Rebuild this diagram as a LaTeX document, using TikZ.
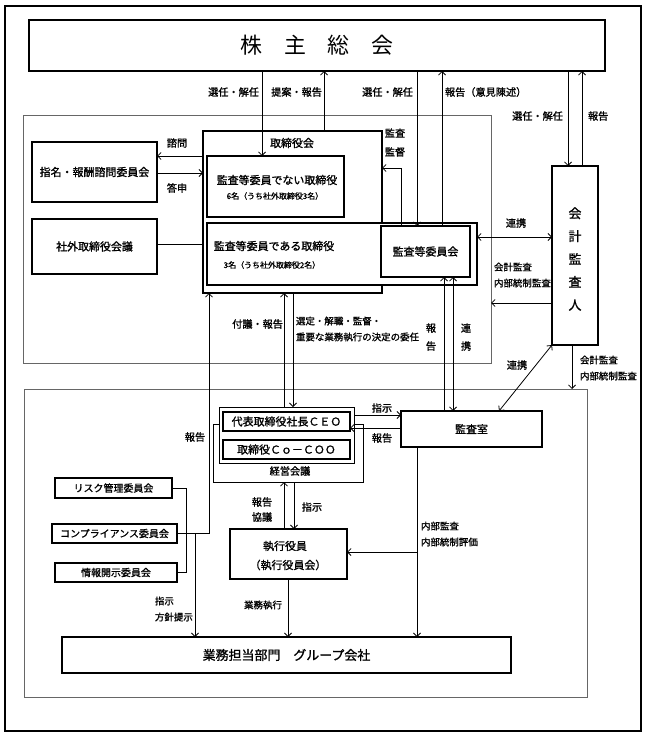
\documentclass[tikz,border=0pt]{standalone}
\usepackage{fontspec}
\setmainfont{Noto Sans CJK JP}[FakeBold=1.2]
\newfontfamily\plainjp{Noto Sans CJK JP}
\usetikzlibrary{arrows.meta}
\newcommand{\placebox}[7][]{\node[#1, minimum width={(#5-#3)*1bp}, minimum height={(#6-#4)*1bp}] (#2) at ({(#3+#5)/2},{(#4+#6)/2}) {#7};}
\begin{document}
\begin{tikzpicture}[x=1bp,y=-1bp,
  base/.style={rectangle, inner sep=0pt, outer sep=0pt},
  frame/.style={base, draw=black, line width=1.4bp},
  region/.style={base, draw=black!60, line width=0.9bp},
  box/.style={base, draw=black, fill=white, line width=1.3bp, font=\fontsize{11}{13}\selectfont},
  thickbox/.style={box, line width=1.9bp},
  thinbox/.style={base, draw=black, fill=white, line width=0.9bp},
  lbl/.style={inner sep=0pt, outer sep=0pt, font=\fontsize{9.5}{11}\selectfont},
  toplbl/.style={inner sep=0pt, outer sep=0pt, font=\fontsize{10.2}{12}\selectfont},
  txt/.style={inner sep=0pt, outer sep=0pt, font=\fontsize{11}{13}\selectfont},
  small/.style={inner sep=0pt, outer sep=0pt, font=\fontsize{8}{10}\selectfont},
  conn/.style={draw=black, line width=0.8bp},
  arr/.style={conn, -{Straight Barb[length=3.5bp,width=7bp]}},
  arrb/.style={conn, {Straight Barb[length=3.5bp,width=7bp]}-{Straight Barb[length=3.5bp,width=7bp]}}
]
\useasboundingbox (0,0) rectangle (647,738);
\fill[white] (0,0) rectangle (647,738);

% frames and regions
\placebox[frame]{outer}{5}{6}{641}{731}{}
\placebox[region]{reg1}{23}{115}{491}{363}{}
\placebox[region]{reg2}{24}{389}{587}{697}{}

% column / row coordinates
\coordinate (cA) at (262,0);
\coordinate (cB) at (324,0);
\coordinate (cC) at (417,0);
\coordinate (cD) at (442,0);
\coordinate (cE) at (568,0);
\coordinate (cF) at (582,0);
\coordinate (cG) at (401,0);
\coordinate (cH) at (444,0);
\coordinate (cI) at (453,0);
\coordinate (cJ) at (284,0);
\coordinate (cK) at (293,0);
\coordinate (cL) at (209,0);
\coordinate (cM) at (195,0);
\coordinate (cN) at (186,0);
\coordinate (cO) at (294,0);
\coordinate (cP) at (288,0);
\coordinate (cQ) at (572,0);
\coordinate (cR) at (499,0);
\coordinate (r1) at (0,156);
\coordinate (r2) at (0,173);
\coordinate (r3) at (0,244);
\coordinate (r4) at (0,168);
\coordinate (r5) at (0,237);
\coordinate (r6) at (0,303);
\coordinate (r7) at (0,415);
\coordinate (r8) at (0,428);
\coordinate (r12) at (0,552);

% boxes
\placebox[box, line width=1.4bp, font=\plainjp\fontsize{22}{24}\selectfont]{sh}{29}{20}{605}{71}{株　主　総　会}
\placebox[thickbox]{board}{203}{131}{382}{293}{}
\placebox[box]{nonaudit}{207}{156}{344}{217}{}
\placebox[box]{auditdir}{207}{223}{477}{285}{}
\placebox[thickbox]{acom}{381}{226}{470}{277}{監査等委員会}
\placebox[box]{nomi}{32}{142}{157}{202}{指名・報酬諮問委員会}
\placebox[box]{outdir}{32}{219}{157}{274}{社外取締役会議}
\placebox[box]{auditor}{552}{166}{598}{345}{}
\placebox[thinbox]{mgmt}{213}{424}{363}{482}{}
\placebox[thinbox]{ceoframe}{219}{407}{354}{463}{}
\placebox[box, line width=1.1bp]{ceo}{223}{412}{350}{431}{代表取締役社長ＣＥＯ}
\placebox[box, line width=1.1bp]{coo}{223}{440}{350}{459}{取締役Ｃｏ－ＣＯＯ}
\placebox[box]{iaudit}{401}{411}{542}{447}{監査室}
\placebox[box, font=\fontsize{10}{12}\selectfont]{risk}{55}{478}{172}{498}{リスク管理委員会}
\placebox[box, font=\fontsize{10}{12}\selectfont]{comp}{52}{524}{177}{543}{コンプライアンス委員会}
\placebox[box, font=\fontsize{10}{12}\selectfont]{disc}{55}{563}{177}{582}{情報開示委員会}
\placebox[box]{exec}{230}{529}{347}{579}{}
\placebox[box, font=\fontsize{13}{15}\selectfont]{biz}{62}{637}{511}{673}{業務担当部門　グループ会社}

% texts inside boxes
\node[txt] (tboard) at (292,143) {取締役会};
\node[txt] (tna1) at (277,180) {監査等委員でない取締役};
\node[small] (tna2) at (275,196) {6名（うち社外取締役3名）};
\node[txt] (tad1) at (274,246) {監査等委員である取締役};
\node[small] (tad2) at (272,265) {3名（うち社外取締役2名）};
\node[inner sep=0pt, align=center, font=\fontsize{13}{23}\selectfont] (taud) at (575,259) {会\\計\\監\\査\\人};
\node[toplbl] (tmgmt) at (290,471) {経営会議};
\node[txt] (tex1) at (285,546) {執行役員};
\node[txt] (tex2) at (288,565) {（執行役員会）};

% shareholders connectors
\draw[arr] (sh.south -| cA) -- (nonaudit.north -| cA);
\draw[arr] (board.north -| cB) -- (sh.south -| cB);
\draw[arr] (sh.south -| cC) -- (acom.north -| cC);
\draw[arr] (acom.north -| cD) -- (sh.south -| cD);
\draw[arr] (sh.south -| cE) -- (auditor.north -| cE);
\draw[arr] (auditor.north -| cF) -- (sh.south -| cF);
\node[toplbl, anchor=east] (l1) at (259,92) {選任・解任};
\node[toplbl, anchor=east] (l2) at (322,92) {提案・報告};
\node[toplbl, anchor=east] (l3) at (413,92) {選任・解任};
\node[toplbl, anchor=west] (l4) at (445,92) {報告（意見陳述）};
\node[toplbl, anchor=east] (l5) at (563,116) {選任・解任};
\node[toplbl, anchor=west] (l6) at (588,116) {報告};

% board side
\draw[arr] (board.west |- r1) -- (nomi.east |- r1);
\draw[arr] (nomi.east |- r2) -- (board.west |- r2);
\draw[conn] (outdir.east |- r3) -- (board.west |- r3);
\node[toplbl] (l7) at (177,143) {諮問};
\node[toplbl] (l8) at (177,188) {答申};
\draw[arr] (acom.north -| cG) |- (board.east |- r4);
\node[toplbl] (l9) at (395,133) {監査};
\node[toplbl] (l10) at (395,152) {監督};

% auditor
\draw[arrb] (auditdir.east |- r5) -- (auditor.west |- r5);
\node[toplbl] (l11) at (516,223) {連携};
\draw[arr] (auditor.west |- r6) -- (reg1.east |- r6);
\node[lbl, anchor=west] (l12) at (494,267) {会計監査};
\node[lbl, anchor=west] (l13) at (494,283) {内部統制監査};
\draw[arr] (auditor.south -| cQ) -- (reg2.north -| cQ);
\node[lbl, anchor=west] (l14) at (580,360) {会計監査};
\node[lbl, anchor=west] (l15) at (580,376) {内部統制監査};
\draw[arrb] (auditor.south west) -- (iaudit.north -| cR);
\node[toplbl] (l16) at (517,365) {連携};

% internal audit <-> audit committee
\draw[arr] (iaudit.north -| cH) -- (acom.south -| cH);
\draw[arrb] (iaudit.north -| cI) -- (acom.south -| cI);
\node[toplbl] (l17) at (431,328) {報};
\node[toplbl] (l18) at (431,346) {告};
\node[toplbl] (l19) at (466,328) {連};
\node[toplbl] (l20) at (466,346) {携};

% CEO <-> board
\draw[arr] (ceoframe.north -| cJ) -- (board.south -| cJ);
\draw[arr] (board.south -| cK) -- (ceoframe.north -| cK);
\node[toplbl, anchor=east] (l21) at (283,324) {付議・報告};
\node[lbl, anchor=west] (l22) at (296,321) {選定・解職・監督・};
\node[lbl, anchor=west] (l23) at (296,337) {重要な業務執行の決定の委任};

% CEO <-> internal audit
\draw[arr] (ceoframe.east |- r7) -- (iaudit.west |- r7);
\draw[arr] (iaudit.west |- r8) -- (ceo.east |- r8);
\node[toplbl] (l24) at (382,408) {指示};
\node[toplbl] (l25) at (382,438) {報告};

% committees
\draw[arr] (comp.east) -- (cL |- comp.east) -- (board.south -| cL);
\node[toplbl] (l26) at (195,437) {報告};
\draw[conn] (risk.east) -| (cN |- disc.east) -- (disc.east);
\draw[arr] (cM |- comp.east) -- (biz.north -| cM);
\node[lbl, anchor=west] (l27) at (155,601) {指示};
\node[lbl, anchor=west] (l28) at (155,617) {方針提示};

% management meeting <-> executives
\draw[arr] (exec.north -| cJ) -- (mgmt.south -| cJ);
\draw[arr] (mgmt.south -| cO) -- (exec.north -| cO);
\node[toplbl] (l29) at (262,502) {報告};
\node[toplbl] (l30) at (262,517) {協議};
\node[toplbl] (l31) at (312,507) {指示};
\draw[arr] (exec.south -| cP) -- (biz.north -| cP);
\node[lbl] (l32) at (263,605) {業務執行};

% internal audit -> business
\draw[arr] (iaudit.south -| cC) -- (biz.north -| cC);
\draw[arr] (cC |- r12) -- (exec.east |- r12);
\node[lbl, anchor=west] (l33) at (421,526) {内部監査};
\node[lbl, anchor=west] (l34) at (421,542) {内部統制評価};
\end{tikzpicture}
\end{document}
